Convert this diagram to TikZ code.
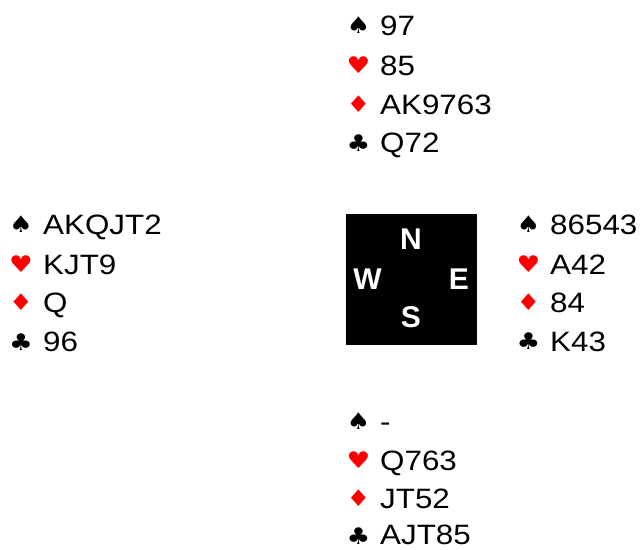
\documentclass[tikz,border=0pt]{standalone}
\usepackage{fontspec}
\setmainfont{Liberation Sans}
\newfontfamily\cardfont[FakeStretch=1.12]{Liberation Sans}
\newfontfamily\suitfont[FakeStretch=1.15]{DejaVu Sans}
\newfontfamily\compfont{Liberation Sans}
\definecolor{suitred}{RGB}{255,0,0}
\tikzset{
  cardtxt/.style={anchor=base west, inner sep=0pt, font=\cardfont\fontsize{28}{28}\selectfont},
  suitblack/.style={anchor=center, inner sep=0pt, font=\suitfont\fontsize{23}{23}\selectfont, text=black},
  suitredst/.style={anchor=center, inner sep=0pt, font=\suitfont\fontsize{23}{23}\selectfont, text=suitred},
  compassbox/.style={fill=black, draw=none, minimum width=131pt, minimum height=131pt, inner sep=0pt},
  compassletter/.style={anchor=center, inner sep=0pt, text=white, font=\compfont\bfseries\fontsize{30}{30}\selectfont}
}
\begin{document}
\begin{tikzpicture}[x=1pt,y=-1pt]
\useasboundingbox (0,0) rectangle (640,549);
% North
\node[suitblack] (ns) at (358.5,25) {♠};
\node[suitredst] (nh) at (358.5,65) {♥};
\node[suitredst] (nd) at (358.5,104) {♦};
\node[suitblack] (nc) at (358.5,143) {♣};
\node[cardtxt] (nst) at (380,35) {97};
\node[cardtxt] (nht) at (380,75) {85};
\node[cardtxt] (ndt) at (380,114) {AK9763};
\node[cardtxt] (nct) at (380,152) {Q72};
% West
\node[suitblack] (ws) at (21,224) {♠};
\node[suitredst] (wh) at (21,264) {♥};
\node[suitredst] (wd) at (21,302) {♦};
\node[suitblack] (wc) at (21,342) {♣};
\node[cardtxt] (wst) at (43,234) {AKQJT2};
\node[cardtxt] (wht) at (43,274) {KJT9};
\node[cardtxt] (wdt) at (43,312) {Q};
\node[cardtxt] (wct) at (43,351.5) {96};
% East
\node[suitblack] (es) at (528.5,224) {♠};
\node[suitredst] (eh) at (528.5,264) {♥};
\node[suitredst] (ed) at (528.5,302) {♦};
\node[suitblack] (ec) at (528.5,341) {♣};
\node[cardtxt] (est) at (550,234) {86543};
\node[cardtxt] (eht) at (550,274) {A42};
\node[cardtxt] (edt) at (550,312.5) {84};
\node[cardtxt] (ect) at (550,351) {K43};
% South
\node[suitblack] (ss) at (358.5,421) {♠};
\node[suitredst] (sh) at (358.5,460) {♥};
\node[suitredst] (sd) at (358.5,498) {♦};
\node[suitblack] (sc) at (358.5,536) {♣};
\node[cardtxt] (sst) at (380,431) {-};
\node[cardtxt] (sht) at (380,470) {Q763};
\node[cardtxt] (sdt) at (380,508) {JT52};
\node[cardtxt] (sct) at (380,544.5) {AJT85};
% Compass
\node[compassbox] (box) at (411.5,279.5) {};
\node[compassletter] (cn) at (411,239) {N};
\node[compassletter] (cw) at (367.5,279.5) {W};
\node[compassletter] (ce) at (459,279.5) {E};
\node[compassletter] (cs) at (411,317.5) {S};
\end{tikzpicture}
\end{document}
